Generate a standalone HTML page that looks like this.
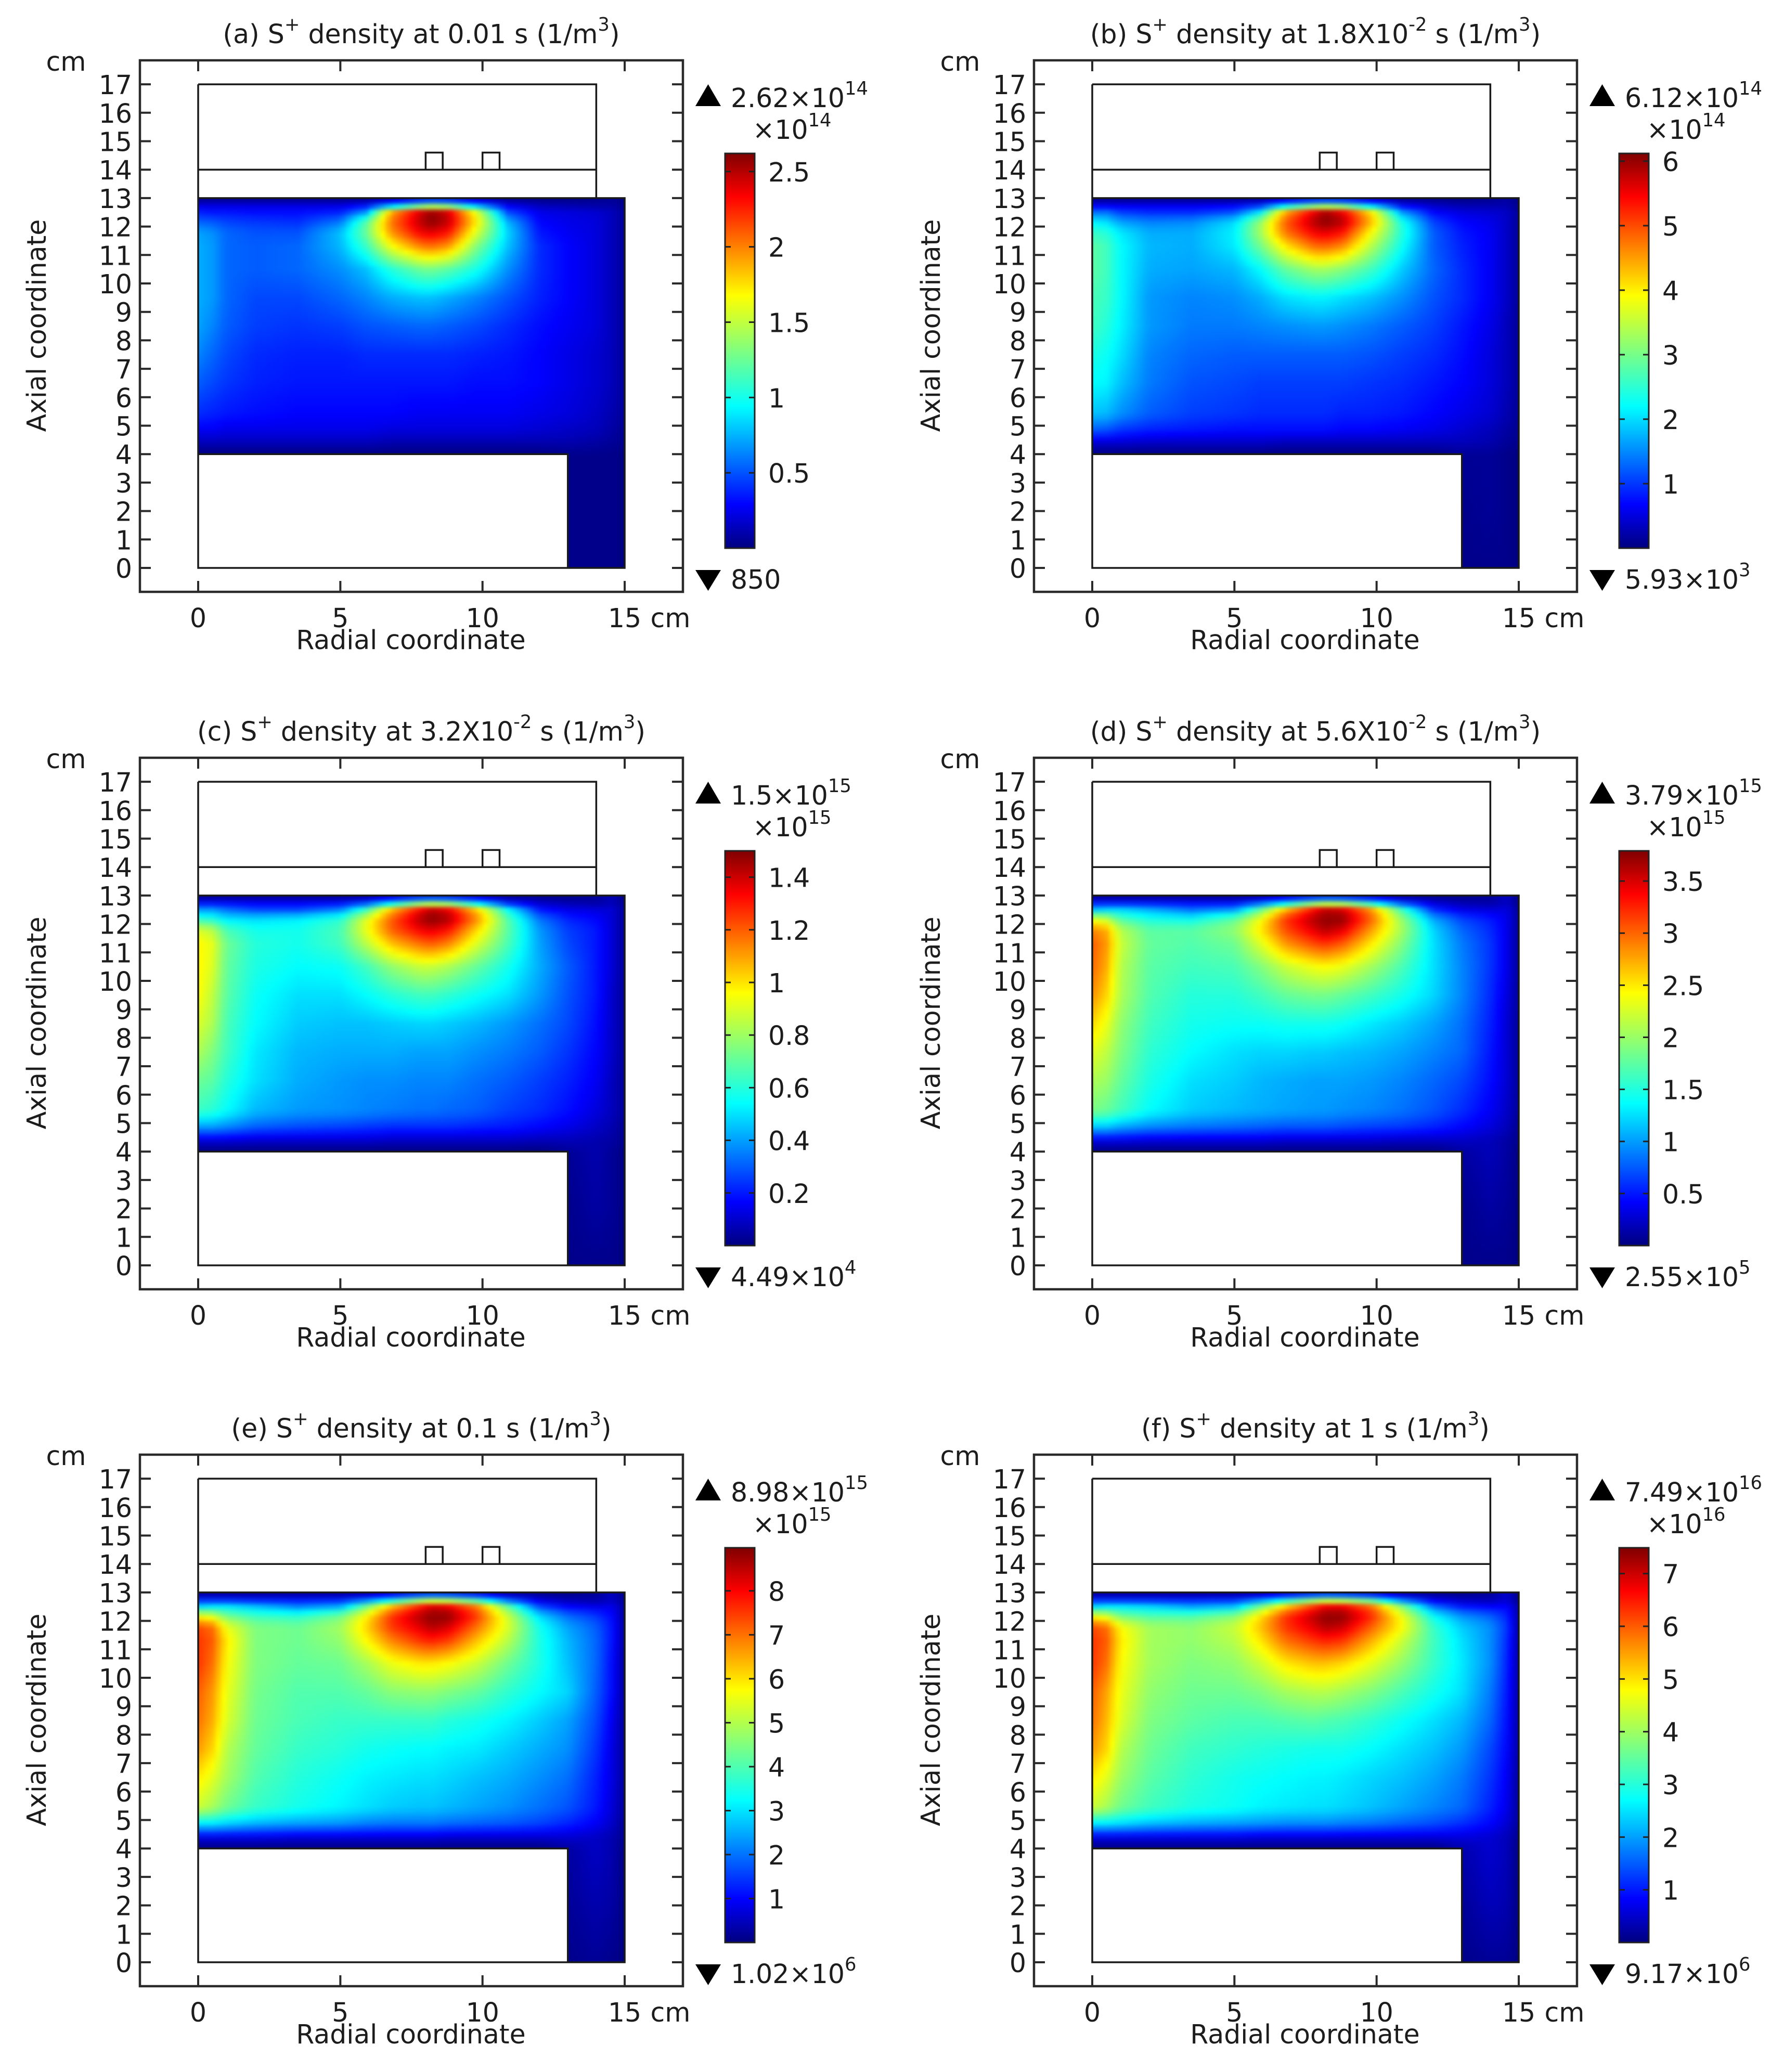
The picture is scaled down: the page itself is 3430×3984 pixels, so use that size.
<!DOCTYPE html>
<html lang="en">
<head>
<meta charset="utf-8">
<title>S+ density at six times</title>
<style>
html,body{margin:0;padding:0;background:#fff;}
svg{display:block;}
text{font-family:"DejaVu Sans","Liberation Sans",sans-serif;fill:#1c1c1c;}
</style>
</head>
<body>
<svg id="figure" xmlns="http://www.w3.org/2000/svg" width="3430" height="3984" viewBox="0 0 3430 3984">
<defs>
<filter id="soften" x="-5%" y="-5%" width="110%" height="110%" color-interpolation-filters="sRGB"><feGaussianBlur stdDeviation="4"/></filter>
<clipPath id="domainClip"><path d="M381 381 H1201 V1092 H1092 V873 H381 Z"/></clipPath>
</defs>
</svg>
<script>
const radialCm = [0,0.5,1,2,3.5,5,5.9,6.8,7.8,8.2,8.8,9.8,10.9,12,13,14,14.6,15];
const axialCm = [13,12.75,12.5,12.2,11.8,11.3,10.5,9.5,8.5,7.5,6.5,5.4,4.85,4.4,4,2,0];
const xTicks = [0,5,10,15];
const yTicks = [0,1,2,3,4,5,6,7,8,9,10,11,12,13,14,15,16,17];

// Field values: percent of each panel's maximum
const fieldA = [
[0,0,0,0,0,0,0,1,2,2,2,1,0,0,0,1,2,0],
[8,8,8,8,8,8,11,24,40,45,42,25,9,5,4,3,3,1],
[14,13,13,12,12,14,26,72,92,97,92,60,18,9,8,7,5,2],
[20,19,17,16,15,22,45,78,95,100,95,66,28,11,9,8,5,2],
[27,25,21,19,19,30,48,75,90,92,88,60,32,13,10,8,5,2],
[28,26,21,20,21,29,42,63,76,78,74,50,30,15,11,8,5,2],
[28,26,21,20,21,25,30,40,48,49,46,38,25,15,11,8,5,2],
[28,26,21,18,18,21,24,28,30,30,28,24,19,14,11,8,5,2],
[27,24,20,17,16,17,19,20,21,21,20,18,15,12,10,8,5,2],
[24,21,18,15,14,14,15,15,15,15,15,14,13,11,9,7,5,2],
[20,18,16,14,13,13,13,13,13,13,13,12,12,11,9,7,5,2],
[15,14,13,12,11,11,11,11,10,10,10,10,10,9,8,6,4,2],
[10,10,9,9,9,9,9,8,8,8,8,8,8,7,6,5,3,1],
[5,5,5,5,5,5,5,4,4,4,4,4,4,4,4,3,2,1],
[0,0,0,0,0,0,0,0,0,0,0,0,0,0,1,1,1,0],
[0,0,0,0,0,0,0,0,0,0,0,0,0,0,1,1,1,0],
[0,0,0,0,0,0,0,0,0,0,0,0,0,0,1,1,1,0]];
const fieldB = [
[0,0,0,0,0,0,0,1,2,2,2,1,0,0,0,1,3,0],
[9,9,9,9,9,10,14,30,42,45,42,28,10,6,4,4,4,1],
[22,22,17,15,15,19,34,72,90,96,90,66,26,11,8,7,6,2],
[34,32,26,23,24,32,52,80,96,100,96,72,38,17,11,9,6,2],
[42,40,34,28,28,35,54,78,90,92,88,64,40,20,13,10,6,2],
[46,43,36,29,28,34,48,66,78,79,75,56,37,20,14,10,6,2],
[46,43,36,28,27,29,36,47,54,54,51,43,31,21,15,10,6,2],
[44,42,36,26,24,25,28,33,35,35,33,30,25,19,15,10,6,2],
[43,40,35,26,23,23,24,25,26,26,25,23,20,17,13,9,5,2],
[39,37,33,24,21,20,20,20,20,20,20,19,17,15,12,8,5,2],
[36,35,30,23,19,18,17,17,17,17,17,16,15,13,11,8,5,2],
[30,29,25,20,17,16,15,15,15,15,14,14,13,11,9,7,4,2],
[20,19,16,14,13,12,12,12,12,12,11,11,10,9,7,5,3,1],
[7,7,7,6,6,6,6,5,5,5,5,5,5,5,5,4,2,1],
[0,0,0,0,0,0,0,0,0,0,0,0,0,0,2,2,1,0],
[0,0,0,0,0,0,0,0,0,0,0,0,0,0,1,2,1,0],
[0,0,0,0,0,0,0,0,0,0,0,0,0,0,1,1,1,0]];
const fieldC = [
[0,0,0,0,0,0,0,1,2,2,2,1,0,0,0,2,5,0],
[11,11,11,10,10,11,16,30,44,47,44,30,12,6,4,3,5,1],
[26,26,22,18,18,24,42,70,88,94,90,68,36,13,9,8,7,2],
[40,38,33,32,34,40,60,80,96,100,97,76,45,22,14,11,7,2],
[60,56,44,38,38,44,62,80,90,92,88,68,46,26,17,13,7,2],
[65,61,48,40,38,43,56,70,78,80,76,60,44,27,18,13,7,2],
[65,60,47,39,36,37,43,52,58,58,55,47,38,28,20,13,7,2],
[64,57,46,37,33,33,36,40,43,43,41,37,33,26,19,13,6,2],
[60,55,44,36,31,30,30,31,32,32,31,29,26,22,18,12,6,2],
[55,50,43,34,29,28,28,28,27,27,27,25,23,20,16,11,6,2],
[48,46,40,33,28,26,25,25,24,24,24,22,20,17,14,10,5,2],
[42,40,36,29,26,25,24,23,22,22,21,20,17,15,12,8,5,2],
[26,26,24,20,18,17,16,15,15,15,15,14,13,11,9,6,4,1],
[8,8,8,7,7,7,7,6,6,6,6,6,6,5,5,4,3,1],
[0,0,0,0,0,0,0,0,0,0,0,0,0,0,2,4,2,0],
[0,0,0,0,0,0,0,0,0,0,0,0,0,0,1,3,2,0],
[0,0,0,0,0,0,0,0,0,0,0,0,0,0,1,1,1,0]];
const fieldD = [
[0,0,0,0,0,0,0,1,2,2,2,1,0,0,0,2,6,0],
[12,12,12,12,11,11,18,30,44,48,46,34,16,7,4,3,6,1],
[30,32,32,28,22,26,46,70,88,94,92,74,42,15,9,8,8,2],
[60,56,44,38,36,46,62,84,96,99,99,80,52,27,17,13,9,2],
[76,72,56,46,46,52,66,82,92,96,92,74,54,32,21,15,9,2],
[80,74,58,47,45,48,60,74,82,84,80,66,50,33,23,16,9,2],
[79,72,56,46,43,44,50,58,63,64,62,54,44,33,24,16,9,2],
[75,68,55,45,40,40,43,47,49,49,47,43,38,32,24,15,8,2],
[68,62,52,43,38,37,37,38,38,38,37,34,31,27,22,14,7,2],
[61,57,50,41,36,33,32,32,31,31,30,29,27,24,21,13,7,2],
[55,53,47,39,33,31,29,28,27,27,27,26,24,21,18,12,7,2],
[49,47,43,36,31,29,28,27,26,26,25,24,22,19,15,10,6,2],
[30,30,27,24,22,21,20,19,19,19,18,17,16,14,11,8,5,1],
[9,9,9,8,8,8,8,7,7,7,7,7,6,6,6,5,3,1],
[0,0,0,0,0,0,0,0,0,0,0,0,0,0,3,5,3,0],
[0,0,0,0,0,0,0,0,0,0,0,0,0,0,1,3,2,0],
[0,0,0,0,0,0,0,0,0,0,0,0,0,0,1,1,1,0]];
const fieldE = [
[0,0,0,0,0,0,0,1,2,2,2,1,0,0,0,2,6,0],
[13,13,13,12,12,13,20,32,46,50,48,38,18,7,4,3,6,1],
[32,34,34,30,24,28,48,70,86,92,90,76,46,18,11,9,9,2],
[62,58,48,42,40,48,64,84,96,99,99,84,58,32,21,16,11,2],
[82,78,62,50,48,54,68,84,92,96,93,78,60,38,27,20,12,2],
[84,80,66,50,48,52,64,76,84,86,83,70,56,39,29,21,12,2],
[84,78,64,50,47,48,54,62,66,66,64,58,48,39,30,21,11,2],
[80,74,62,49,45,45,47,51,52,52,50,47,41,36,32,20,11,2],
[78,72,60,48,44,42,42,42,42,42,40,38,35,31,27,18,9,2],
[74,68,56,47,42,40,38,37,36,36,35,34,31,28,25,16,8,2],
[66,61,54,45,40,37,35,34,33,33,32,30,28,25,22,14,8,2],
[58,54,48,42,38,35,33,31,30,30,29,27,25,22,19,13,7,2],
[33,33,31,28,26,25,23,22,22,22,21,20,19,17,14,10,6,1],
[9,9,9,9,8,8,8,8,8,8,7,7,7,7,7,6,4,1],
[0,0,0,0,0,0,0,0,0,0,0,0,0,0,3,6,4,0],
[0,0,0,0,0,0,0,0,0,0,0,0,0,0,2,4,3,0],
[0,0,0,0,0,0,0,0,0,0,0,0,0,0,1,2,1,0]];
const fieldF = [
[0,0,0,0,0,0,0,1,2,2,2,1,0,0,0,2,7,0],
[13,13,13,13,13,14,22,34,46,50,48,40,20,8,5,4,7,1],
[32,34,34,32,27,30,48,68,84,90,90,78,50,22,13,11,11,3],
[62,58,48,44,44,50,66,84,95,99,99,86,62,36,25,20,14,3],
[82,78,64,54,52,58,70,84,92,96,94,80,64,42,31,25,16,3],
[84,80,66,54,52,56,66,78,84,86,84,72,58,43,33,25,15,3],
[84,78,64,54,50,52,58,66,70,70,68,61,52,42,34,25,14,3],
[80,73,62,52,48,48,50,54,56,56,54,50,44,38,33,23,13,3],
[78,71,60,50,46,44,44,45,46,45,44,41,37,33,29,21,12,3],
[74,68,56,48,43,41,40,39,38,38,38,36,33,30,26,18,11,3],
[66,61,53,46,41,38,37,36,35,35,34,32,30,27,23,16,10,2],
[58,54,48,43,39,37,35,34,33,33,32,30,27,24,21,14,9,2],
[33,33,32,29,27,26,25,24,24,24,23,22,20,18,15,11,7,2],
[9,9,9,9,9,9,8,8,8,8,8,8,8,8,8,7,5,1],
[0,0,0,0,0,0,0,0,0,0,0,0,0,0,4,7,5,0],
[0,0,0,0,0,0,0,0,0,0,0,0,0,0,2,5,4,0],
[0,0,0,0,0,0,0,0,0,0,0,0,0,0,1,2,2,0]];

// Panel labels
const panelIds = ['a','b','c','d','e','f'];
const panelTitles = [
'(a) S^{+} density at 0.01 s (1/m^{3})',
'(b) S^{+} density at 1.8X10^{-2} s (1/m^{3})',
'(c) S^{+} density at 3.2X10^{-2} s (1/m^{3})',
'(d) S^{+} density at 5.6X10^{-2} s (1/m^{3})',
'(e) S^{+} density at 0.1 s (1/m^{3})',
'(f) S^{+} density at 1 s (1/m^{3})'];
const maxLabels = ['2.62×10^{14}','6.12×10^{14}','1.5×10^{15}','3.79×10^{15}','8.98×10^{15}','7.49×10^{16}'];
const minLabels = ['850','5.93×10^{3}','4.49×10^{4}','2.55×10^{5}','1.02×10^{6}','9.17×10^{6}'];
const exponentLabels = ['×10^{14}','×10^{14}','×10^{15}','×10^{15}','×10^{15}','×10^{16}'];
const colorMax = [2.62,6.12,1.5,3.79,8.98,7.49];
const colorTicksA = [0.5,1,1.5,2,2.5];
const colorTicksB = [1,2,3,4,5,6];
const colorTicksC = [0.2,0.4,0.6,0.8,1,1.2,1.4];
const colorTicksD = [0.5,1,1.5,2,2.5,3,3.5];
const colorTicksE = [1,2,3,4,5,6,7,8];
const colorTicksF = [1,2,3,4,5,6,7];

const fields = [fieldA,fieldB,fieldC,fieldD,fieldE,fieldF];
const colorTicks = [colorTicksA,colorTicksB,colorTicksC,colorTicksD,colorTicksE,colorTicksF];

const NS = 'http://www.w3.org/2000/svg';
const svg = document.getElementById('figure');
const colOffsets = [0,1719];
const rowOffsets = [0,1341,2681];
const FONT = 50.5;

function sx(cm){ return 381 + 54.67*cm; }
function sy(cm){ return 1092 - 54.7*cm; }
function colorY(frac){ return 1054 - frac*759; }

function jet(t){
  t = Math.max(0,Math.min(1,t));
  const ramp = function(a,b,c,d){
    if(t<a) return 0; if(t<b) return (t-a)/(b-a); if(t<c) return 1; if(t<d) return 1-(t-c)/(d-c); return 0;
  };
  const r = t>0.89 ? 1-(t-0.89)/0.11*0.5 : ramp(0.36,0.64,0.89,2);
  const g = ramp(0.11,0.36,0.64,0.89);
  const b = t<0.11 ? 0.5+t/0.11*0.5 : ramp(-1,0,0.36,0.64);
  return 'rgb('+Math.round(r*255)+','+Math.round(g*255)+','+Math.round(b*255)+')';
}

function locate(arr,v){
  for(let i=0;i<arr.length-1;i++){
    const lo=Math.min(arr[i],arr[i+1]), hi=Math.max(arr[i],arr[i+1]);
    if(v>=lo && v<=hi){ return [i,(v-arr[i])/(arr[i+1]-arr[i])]; }
  }
  return [arr.length-2,1];
}
function sample(field,x,y){
  const cx=Math.max(0,Math.min(15,x)), cy=Math.max(0,Math.min(13,y));
  const a=locate(radialCm,cx), b=locate(axialCm,cy);
  const r0=field[b[0]], r1=field[b[0]+1];
  const top=r0[a[0]]+(r0[a[0]+1]-r0[a[0]])*a[1];
  const bot=r1[a[0]]+(r1[a[0]+1]-r1[a[0]])*a[1];
  return top+(bot-top)*b[1];
}

function line(parent,x1,y1,x2,y2,w,color,name){
  const el=document.createElementNS(NS,'line');
  el.setAttribute('x1',x1);el.setAttribute('y1',y1);el.setAttribute('x2',x2);el.setAttribute('y2',y2);
  el.setAttribute('stroke',color);el.setAttribute('stroke-width',w);
  
  
  parent.appendChild(el);
  return el;
}
function label(parent,x,y,anchor,str,size,name){
  const el=document.createElementNS(NS,'text');
  el.setAttribute('x',x);el.setAttribute('y',y);el.setAttribute('text-anchor',anchor);el.setAttribute('font-size',size);
  
  
  const parts=str.split(/(\^\{[^}]*\})/);
  let pending=0;
  parts.forEach(function(p){
    if(!p) return;
    const ts=document.createElementNS(NS,'tspan');
    if(p.charAt(0)==='^'){
      ts.textContent=p.slice(2,-1);
      ts.setAttribute('font-size',size*0.7);
      ts.setAttribute('dy',-24);
      pending=24;
    } else {
      ts.textContent=p;
      if(pending){ ts.setAttribute('dy',pending); pending=0; }
    }
    parent.appendChild(el);
    el.appendChild(ts);
  });
  return el;
}

function drawHeatmap(parent,field,id){
  const clip=document.createElementNS(NS,'g');
  clip.setAttribute('clip-path','url(#domainClip)');
  
  
  const blur=document.createElementNS(NS,'g');
  blur.setAttribute('filter','url(#soften)');
  clip.appendChild(blur);
  const step=0.2;
  for(let j=-2;j<67;j++){
    for(let i=-2;i<77;i++){
      const xc=(i+0.5)*step, yc=13-(j+0.5)*step;
      if(xc<12.4 && yc<3.4) continue;
      const r=document.createElementNS(NS,'rect');
      r.setAttribute('x',sx(i*step).toFixed(1));
      r.setAttribute('y',sy(13-j*step).toFixed(1));
      r.setAttribute('width',(54.67*step+0.6).toFixed(1));
      r.setAttribute('height',(54.7*step+0.6).toFixed(1));
      r.setAttribute('fill',jet(sample(field,xc,yc)/100));
      
      
      blur.appendChild(r);
    }
  }
  parent.appendChild(clip);
}

function drawGeometry(parent){
  const g=document.createElementNS(NS,'path');
  const d='M'+sx(0)+' '+sy(17)+' H'+sx(14)+' V'+sy(13)+
    ' M'+sx(0)+' '+sy(14)+' H'+sx(14)+
    ' M'+sx(8)+' '+sy(14)+' V'+sy(14.6)+' H'+sx(8.6)+' V'+sy(14)+
    ' M'+sx(10)+' '+sy(14)+' V'+sy(14.6)+' H'+sx(10.6)+' V'+sy(14)+
    ' M'+sx(0)+' '+sy(17)+' V'+sy(0)+' H'+sx(15)+' V'+sy(13)+' H'+sx(0)+
    ' M'+sx(0)+' '+sy(4)+' H'+sx(13)+' V'+sy(0);
  g.setAttribute('d',d);
  g.setAttribute('fill','none');
  g.setAttribute('stroke','#1a1a1a');
  g.setAttribute('stroke-width','3.5');
  
  
  parent.appendChild(g);
}

function drawAxes(parent){
  const L=269,R=1313,T=116,B=1138,TL=21;
  const frame=document.createElementNS(NS,'rect');
  frame.setAttribute('x',L);frame.setAttribute('y',T);frame.setAttribute('width',R-L);frame.setAttribute('height',B-T);
  frame.setAttribute('fill','none');frame.setAttribute('stroke','#2a2a2a');frame.setAttribute('stroke-width','4.5');
  
  
  parent.appendChild(frame);
  yTicks.forEach(function(v){
    line(parent,L,sy(v),L+TL,sy(v),4,'#2a2a2a','y-tick-left');
    line(parent,R-TL,sy(v),R,sy(v),4,'#2a2a2a','y-tick-right');
    label(parent,254,sy(v)+19,'end',String(v),FONT,'y-tick-label');
  });
  xTicks.forEach(function(v){
    line(parent,sx(v),T,sx(v),T+TL,4,'#2a2a2a','x-tick-top');
    line(parent,sx(v),B-TL,sx(v),B,4,'#2a2a2a','x-tick-bottom');
    label(parent,sx(v),1206,'middle',String(v),FONT,'x-tick-label');
  });
  label(parent,1289,1206,'middle','cm',FONT,'x-unit-label');
  label(parent,127,136,'middle','cm',FONT,'y-unit-label');
  label(parent,790,1248,'middle','Radial coordinate',FONT,'x-axis-title');
  const yt=label(parent,88,626,'middle','Axial coordinate',FONT,'y-axis-title');
  yt.setAttribute('transform','rotate(-90 88 626)');
}

function drawColorbar(parent,idx){
  const vmax=colorMax[idx];
  const gradId='jetGrad'+panelIds[idx];
  const grad=document.createElementNS(NS,'linearGradient');
  grad.setAttribute('id',gradId);
  grad.setAttribute('x1','0');grad.setAttribute('y1','1');grad.setAttribute('x2','0');grad.setAttribute('y2','0');
  for(let k=0;k<=100;k++){
    const s=document.createElementNS(NS,'stop');
    s.setAttribute('offset',(k/100).toFixed(2));
    s.setAttribute('stop-color',jet(k/100));
    grad.appendChild(s);
  }
  svg.querySelector('defs').appendChild(grad);
  const bar=document.createElementNS(NS,'rect');
  bar.setAttribute('x',1394);bar.setAttribute('y',colorY(1));bar.setAttribute('width',57);bar.setAttribute('height',759);
  bar.setAttribute('fill','url(#'+gradId+')');
  bar.setAttribute('stroke','#222');bar.setAttribute('stroke-width','3');
  
  
  parent.appendChild(bar);
  colorTicks[idx].forEach(function(v){
    const y=colorY(v/vmax);
    line(parent,1394,y,1405,y,3,'#222','colorbar-tick');
    line(parent,1440,y,1451,y,3,'#222','colorbar-tick');
    label(parent,1477,y+19,'start',String(v),FONT,'colorbar-tick-label');
  });
  label(parent,1447,267,'start',exponentLabels[idx],FONT,'colorbar-exponent');
  const up=document.createElementNS(NS,'polygon');
  up.setAttribute('points','1337,204 1386,204 1361.5,162');
  up.setAttribute('fill','#000');
  
  
  parent.appendChild(up);
  label(parent,1405,206,'start',maxLabels[idx],FONT,'max-label');
  const dn=document.createElementNS(NS,'polygon');
  dn.setAttribute('points','1337,1096 1386,1096 1361.5,1136');
  dn.setAttribute('fill','#000');
  
  
  parent.appendChild(dn);
  label(parent,1405,1132,'start',minLabels[idx],FONT,'min-label');
}

panelIds.forEach(function(id,idx){
  const g=document.createElementNS(NS,'g');
  g.setAttribute('transform','translate('+colOffsets[idx%2]+' '+rowOffsets[Math.floor(idx/2)]+')');
  
  
  svg.appendChild(g);
  label(g,810,83,'middle',panelTitles[idx],FONT,'panel-title');
  drawHeatmap(g,fields[idx],id);
  drawGeometry(g);
  drawAxes(g);
  drawColorbar(g,idx);
});
</script>
</body>
</html>
